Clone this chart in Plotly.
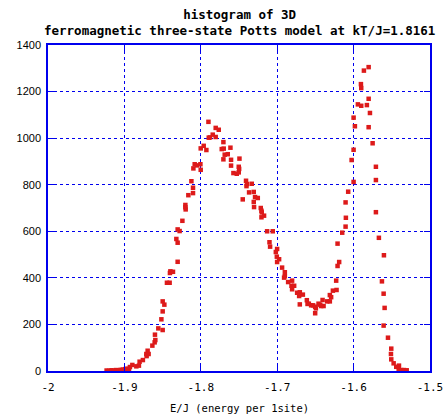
import plotly.graph_objects as go

# energy per site (E/J) and histogram counts
energy = [
    -1.9233, -1.9200, -1.9170, -1.9140, -1.9110, -1.9080, -1.9050, -1.9020, -1.8990, -1.8960, -1.8940,
    -1.8928, -1.8896, -1.8844, -1.8810, -1.8801, -1.8758, -1.8713, -1.8709, -1.8696, -1.8683,
    -1.8634, -1.8604, -1.8600, -1.8595, -1.8556, -1.8516, -1.8499, -1.8499, -1.8499, -1.8477,
    -1.8443, -1.8408, -1.8404, -1.8398, -1.8364, -1.8320, -1.8303, -1.8303, -1.8303, -1.8277,
    -1.8241, -1.8202, -1.8202, -1.8198, -1.8163, -1.8123, -1.8102, -1.8102, -1.8097, -1.8080,
    -1.8050, -1.8005, -1.8001, -1.8001, -1.7962, -1.7927, -1.7900, -1.7896, -1.7880, -1.7844,
    -1.7805, -1.7805, -1.7765, -1.7726, -1.7704, -1.7700, -1.7704, -1.7687, -1.7647, -1.7612,
    -1.7604, -1.7604, -1.7573, -1.7529, -1.7503, -1.7503, -1.7494, -1.7498, -1.7451, -1.7408,
    -1.7395, -1.7402, -1.7368, -1.7333, -1.7307, -1.7290, -1.7254, -1.7307, -1.7303, -1.7215,
    -1.7206, -1.7202, -1.7172, -1.7206, -1.7132, -1.7058, -1.7101, -1.7093, -1.7001, -1.7018,
    -1.7005, -1.6975, -1.7001, -1.6936, -1.6900, -1.6900, -1.6910, -1.6857, -1.6805, -1.6813,
    -1.6778, -1.6805, -1.6739, -1.6704, -1.6664, -1.6713, -1.6704, -1.6612, -1.6603, -1.6586,
    -1.6556, -1.6530, -1.6503, -1.6494, -1.6459, -1.6438, -1.6393, -1.6425, -1.6406, -1.6503,
    -1.6346, -1.6311, -1.6311, -1.6294, -1.6271, -1.6223, -1.6228, -1.6210, -1.6189, -1.6210,
    -1.6149, -1.6105, -1.6101, -1.6105, -1.6071, -1.6026, -1.6000, -1.6000, -1.6000, -1.5983,
    -1.5944, -1.5904, -1.5900, -1.5900, -1.5865, -1.5826, -1.5803, -1.5803, -1.5803, -1.5786,
    -1.5751, -1.5708, -1.5708, -1.5708, -1.5669, -1.5629, -1.5607, -1.5603, -1.5607, -1.5594,
    -1.5550, -1.5507, -1.5511, -1.5507, -1.5476, -1.5442, -1.5406, -1.5410, -1.5376, -1.5341,
    -1.5305,
]
counts = [
    2, 1, 3, 2, 4, 3, 5, 6, 8, 10, 8,
    17, 26, 20, 23, 40, 47, 73, 64, 87, 73,
    109, 123, 156, 133, 183, 222, 299, 256, 176, 285,
    379, 379, 421, 428, 426, 567, 608, 551, 469, 601,
    645, 713, 703, 694, 755, 815, 787, 764, 870, 888,
    883, 888, 864, 956, 967, 949, 1070, 1002, 1003, 1015,
    1044, 1005, 1036, 953, 983, 955, 909, 929, 931, 959,
    907, 882, 850, 847, 853, 877, 912, 868, 737, 817,
    803, 794, 767, 804, 769, 747, 743, 726, 704, 700,
    688, 681, 667, 660, 600, 600, 553, 534, 524, 511,
    491, 480, 468, 444, 424, 407, 401, 382, 388, 366,
    366, 351, 336, 338, 328, 322, 286, 304, 288, 289,
    282, 282, 276, 269, 289, 285, 279, 279, 305, 248,
    299, 299, 326, 317, 345, 348, 388, 451, 468, 547,
    594, 620, 658, 724, 770, 906, 950, 812, 1088, 1051,
    1145, 1232, 1215, 1139, 1290, 1142, 1305, 1169, 1047, 1108,
    978, 877, 820, 682, 572, 385, 332, 497, 195, 271,
    143, 96, 73, 50, 33, 18, 23, 9, 4, 4,
    3,
]

x_tick_vals = [-2.0, -1.9, -1.8, -1.7, -1.6, -1.5]
x_tick_text = ["-2", "-1.9", "-1.8", "-1.7", "-1.6", "-1.5"]
y_tick_vals = [0, 200, 400, 600, 800, 1000, 1200, 1400]

title_text = "histogram of 3D<br>ferromagnetic three-state Potts model at kT/J=1.8161"
x_title = "E/J (energy per 1site)"

fig = go.Figure(
    go.Scatter(
        x=energy,
        y=counts,
        mode="markers",
        marker=dict(symbol="square", size=4.5, color="#dd1a1a", line=dict(width=0)),
        showlegend=False,
        hoverinfo="x+y",
    )
)

axis_common = dict(
    showline=True,
    linecolor="#0000ee",
    linewidth=1.5,
    mirror="ticks",
    showgrid=True,
    gridcolor="#0000ee",
    griddash="dot",
    gridwidth=1,
    zeroline=False,
    ticks="inside",
    ticklen=6,
    tickcolor="#0000ee",
    tickwidth=1,
    ticklabeloverflow="allow",
    automargin=False,
)

fig.update_layout(
    width=443,
    height=419,
    margin=dict(l=48, r=13, t=45, b=48, autoexpand=False),
    paper_bgcolor="white",
    plot_bgcolor="white",
    xaxis=dict(
        range=[-2.0, -1.5],
        tickvals=x_tick_vals,
        ticktext=x_tick_text,
        tickfont=dict(family="DejaVu Sans Mono", size=11, color="black"),
        ticklabelstandoff=5,
        **axis_common,
    ),
    yaxis=dict(
        range=[0, 1400],
        tickvals=y_tick_vals,
        tickfont=dict(family="Liberation Sans", size=11, color="black"),
        ticklabelstandoff=3,
        **axis_common,
    ),
    annotations=[
        dict(
            text=title_text,
            x=0.5,
            xref="paper",
            xanchor="center",
            y=1,
            yref="paper",
            yanchor="bottom",
            yshift=5,
            showarrow=False,
            align="center",
            font=dict(family="DejaVu Sans Mono", size=12.5, color="black", weight="bold"),
        ),
        dict(
            text=x_title,
            x=0.5,
            xref="paper",
            xanchor="center",
            y=0,
            yref="paper",
            yanchor="middle",
            yshift=-37,
            showarrow=False,
            font=dict(family="DejaVu Sans Mono", size=10.5, color="black"),
        ),
    ],
)

fig.write_html(
    "out.html",
    config={"displayModeBar": False},
    post_script="document.body.style.margin='0';",
)
